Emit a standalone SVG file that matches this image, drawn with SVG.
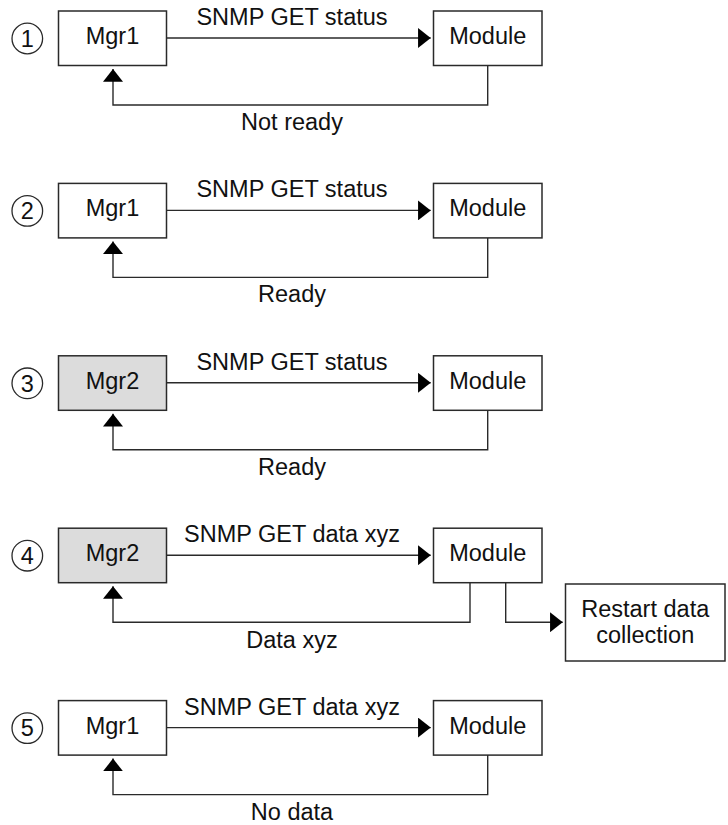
<svg xmlns="http://www.w3.org/2000/svg" width="728" height="825" viewBox="0 0 728 825">
<style>
text{font-family:"Liberation Sans",Arial,Helvetica,sans-serif;font-size:23.5px;fill:#111;text-anchor:middle}
.box{fill:#fff;stroke:#2a2a2a;stroke-width:1.5}
.grey{fill:#dcdcdc}
.num{fill:none;stroke:#2a2a2a;stroke-width:1.3}
.ln{fill:none;stroke:#2a2a2a;stroke-width:1.4}
</style>
<defs>
<marker id="ah" markerUnits="userSpaceOnUse" markerWidth="13" markerHeight="20" viewBox="0 0 12 19" refX="12" refY="9.5" orient="auto">
<path d="M0,0 L12,9.5 L0,19 z" fill="#000"/>
</marker>
</defs>

<g id="step1">
<circle class="num" cx="27.3" cy="38.5" r="15.3"/><text x="27.3" y="46.8">1</text>
</g>
<g id="mgr1-a"><rect class="box" x="58.5" y="11" width="108" height="54.5"/><text x="112.5" y="44">Mgr1</text></g>
<g id="module-a"><rect class="box" x="433.5" y="11" width="108.5" height="54.5"/><text x="487.75" y="44">Module</text></g>

<g id="step2">
<circle class="num" cx="27.3" cy="210.9" r="15.3"/><text x="27.3" y="219.2">2</text>
</g>
<g id="mgr1-b"><rect class="box" x="58.5" y="183.4" width="108" height="54.5"/><text x="112.5" y="216.4">Mgr1</text></g>
<g id="module-b"><rect class="box" x="433.5" y="183.4" width="108.5" height="54.5"/><text x="487.75" y="216.4">Module</text></g>

<g id="step3">
<circle class="num" cx="27.3" cy="383.3" r="15.3"/><text x="27.3" y="391.6">3</text>
</g>
<g id="mgr2-c"><rect class="box grey" x="58.5" y="355.8" width="108" height="54.5"/><text x="112.5" y="388.8">Mgr2</text></g>
<g id="module-c"><rect class="box" x="433.5" y="355.8" width="108.5" height="54.5"/><text x="487.75" y="388.8">Module</text></g>

<g id="step4">
<circle class="num" cx="27.3" cy="555.7" r="15.3"/><text x="27.3" y="564">4</text>
</g>
<g id="mgr2-d"><rect class="box grey" x="58.5" y="528.2" width="108" height="54.5"/><text x="112.5" y="561.2">Mgr2</text></g>
<g id="module-d"><rect class="box" x="433.5" y="528.2" width="108.5" height="54.5"/><text x="487.75" y="561.2">Module</text></g>
<g id="restart"><rect class="box" x="565.5" y="584" width="159.5" height="77"/><text x="645.25" y="617.3">Restart data</text><text x="645.25" y="643.3">collection</text></g>

<g id="step5">
<circle class="num" cx="27.3" cy="728.1" r="15.3"/><text x="27.3" y="736.4">5</text>
</g>
<g id="mgr1-e"><rect class="box" x="58.5" y="700.6" width="108" height="54.5"/><text x="112.5" y="733.6">Mgr1</text></g>
<g id="module-e"><rect class="box" x="433.5" y="700.6" width="108.5" height="54.5"/><text x="487.75" y="733.6">Module</text></g>

<g id="connectors">
<line class="ln" x1="166.5" y1="38" x2="430.7" y2="38" marker-end="url(#ah)"/>
<text x="292" y="25">SNMP GET status</text>
<polyline class="ln" points="487.7,65.5 487.7,105 113,105 113,69" marker-end="url(#ah)"/>
<text x="292" y="130">Not ready</text>

<line class="ln" x1="166.5" y1="210.4" x2="430.7" y2="210.4" marker-end="url(#ah)"/>
<text x="292" y="197.4">SNMP GET status</text>
<polyline class="ln" points="487.7,237.9 487.7,277.4 113,277.4 113,241.4" marker-end="url(#ah)"/>
<text x="292" y="302.4">Ready</text>

<line class="ln" x1="166.5" y1="382.8" x2="430.7" y2="382.8" marker-end="url(#ah)"/>
<text x="292" y="369.8">SNMP GET status</text>
<polyline class="ln" points="487.7,410.3 487.7,449.8 113,449.8 113,413.8" marker-end="url(#ah)"/>
<text x="292" y="474.8">Ready</text>

<line class="ln" x1="166.5" y1="555.2" x2="430.7" y2="555.2" marker-end="url(#ah)"/>
<text x="292" y="542.4">SNMP GET data xyz</text>
<polyline class="ln" points="470,582.7 470,622.2 113,622.2 113,586.2" marker-end="url(#ah)"/>
<text x="292" y="647.5">Data xyz</text>
<polyline class="ln" points="505.7,582.7 505.7,622.2 562.7,622.2" marker-end="url(#ah)"/>

<line class="ln" x1="166.5" y1="727.6" x2="430.7" y2="727.6" marker-end="url(#ah)"/>
<text x="292" y="714.6">SNMP GET data xyz</text>
<polyline class="ln" points="487.7,755.1 487.7,794.6 113,794.6 113,758.6" marker-end="url(#ah)"/>
<text x="292" y="819.6">No data</text>
</g>
</svg>
